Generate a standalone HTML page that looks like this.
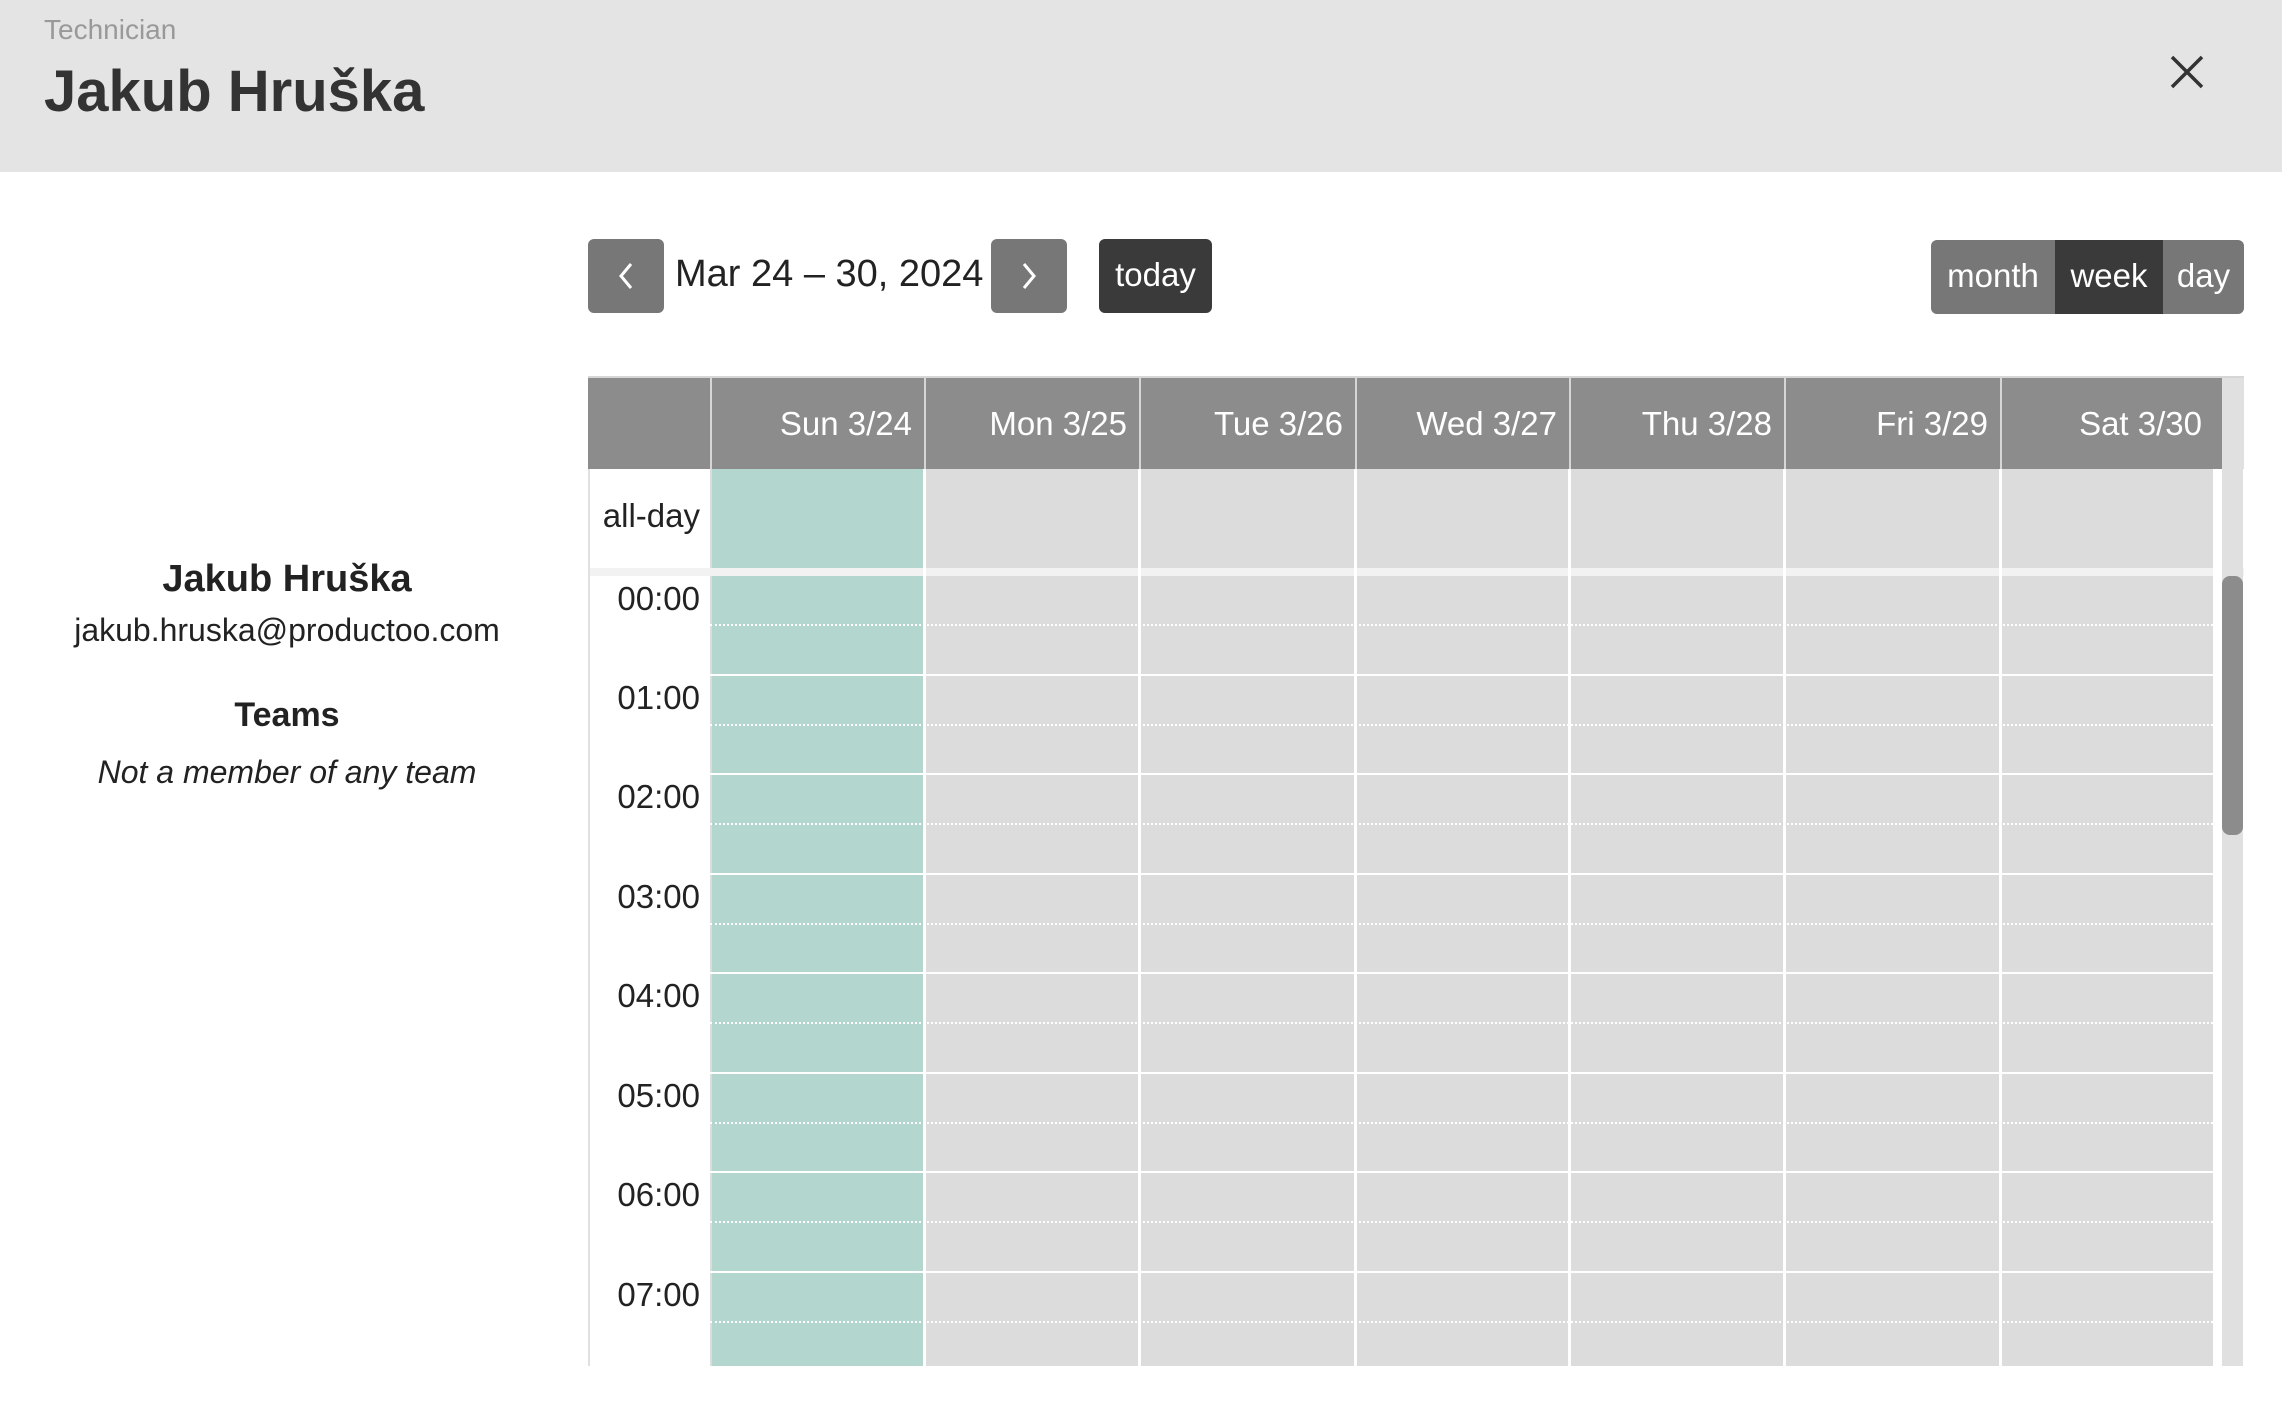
<!DOCTYPE html>
<html><head><meta charset="utf-8"><style>
*{margin:0;padding:0;box-sizing:border-box}
body{width:2282px;height:1416px;background:#fff;position:relative;overflow:hidden;font-family:"Liberation Sans Narrow","Liberation Sans",sans-serif;color:#222}
.a{position:absolute}
.btn{position:absolute;background:#777;border-radius:6px}
.hl{position:absolute;left:710px;width:1503px;height:0}
.tl{position:absolute;left:588px;width:112px;text-align:right;font-size:33px;color:#222}
.hd{position:absolute;top:378px;height:91px;background:#8c8c8c;color:#fff;font-size:33px;text-align:right;padding-right:12px;line-height:91px;border-left:2px solid #d6d6d6}
</style></head><body>
<div class="a" style="left:0;top:0;width:2282px;height:172px;background:#e4e4e4"></div>
<div class="a" style="left:44px;top:14px;font-size:28px;color:#999">Technician</div>
<div class="a" style="left:44px;top:58px;font-size:58px;font-weight:bold;color:#333">Jakub Hruška</div>
<svg class="a" style="left:2170px;top:55px" width="34" height="34"><path d="M2 2L32 32M32 2L2 32" stroke="#333" stroke-width="3.5"/></svg>

<div class="btn" style="left:588px;top:239px;width:76px;height:74px"></div>
<svg class="a" style="left:618px;top:262px" width="16" height="28"><path d="M13 2L3 14L13 26" stroke="#fff" stroke-width="3" fill="none"/></svg>
<div class="a" style="left:675px;top:253px;font-size:38px;color:#222">Mar 24 – 30, 2024</div>
<div class="btn" style="left:991px;top:239px;width:76px;height:74px"></div>
<svg class="a" style="left:1021px;top:262px" width="16" height="28"><path d="M3 2L13 14L3 26" stroke="#fff" stroke-width="3" fill="none"/></svg>
<div class="btn" style="left:1099px;top:239px;width:113px;height:74px;background:#3a3a3a"></div>
<div class="a" style="left:1099px;top:256px;width:113px;text-align:center;font-size:33px;color:#fff">today</div>

<div class="btn" style="left:1931px;top:240px;width:313px;height:74px"></div>
<div class="a" style="left:2055px;top:240px;width:108px;height:74px;background:#3a3a3a"></div>
<div class="a" style="left:1931px;top:257px;width:124px;text-align:center;font-size:33px;color:#fff">month</div>
<div class="a" style="left:2055px;top:257px;width:108px;text-align:center;font-size:33px;color:#fff">week</div>
<div class="a" style="left:2163px;top:257px;width:81px;text-align:center;font-size:33px;color:#fff">day</div>

<div class="a" style="left:0;top:558px;width:574px;text-align:center;font-size:38px;font-weight:bold">Jakub Hruška</div>
<div class="a" style="left:0;top:612px;width:574px;text-align:center;font-size:32px">jakub.hruska@productoo.com</div>
<div class="a" style="left:0;top:696px;width:574px;text-align:center;font-size:34px;font-weight:bold">Teams</div>
<div class="a" style="left:0;top:754px;width:574px;text-align:center;font-size:32px;font-style:italic">Not a member of any team</div>

<div class="a" style="left:588px;top:378px;width:2px;height:988px;background:#e0e0e0"></div>
<div class="a" style="left:588px;top:376px;width:1656px;height:2px;background:#d6d6d6"></div>
<div class="a" style="left:588px;top:378px;width:122px;height:91px;background:#8c8c8c"></div>
<div class="hd" style="left:710px;width:214px">Sun 3/24</div>
<div class="hd" style="left:924px;width:215px">Mon 3/25</div>
<div class="hd" style="left:1139px;width:216px">Tue 3/26</div>
<div class="hd" style="left:1355px;width:214px">Wed 3/27</div>
<div class="hd" style="left:1569px;width:215px">Thu 3/28</div>
<div class="hd" style="left:1784px;width:216px">Fri 3/29</div>
<div class="hd" style="left:2000px;width:222px;padding-right:20px">Sat 3/30</div>
<div class="a" style="left:2222px;top:378px;width:22px;height:91px;background:#e0e0e0"></div>

<div class="a" style="left:710px;top:469px;width:1503px;height:99px;background:#dcdcdc"></div>
<div class="a" style="left:712px;top:469px;width:212px;height:99px;background:#b3d6cf"></div>
<div class="tl" style="top:497px">all-day</div>
<div class="a" style="left:590px;top:568px;width:1654px;height:8px;background:#f2f2f2"></div>

<div class="a" style="left:710px;top:576px;width:1503px;height:790px;background:#dcdcdc"></div>
<div class="a" style="left:712px;top:576px;width:212px;height:790px;background:#b3d6cf"></div>

<div class="hl" style="top:624px;border-top:2px dotted #fff"></div>
<div class="hl" style="top:674px;border-top:2px solid #fff"></div>
<div class="hl" style="top:724px;border-top:2px dotted #fff"></div>
<div class="hl" style="top:773px;border-top:2px solid #fff"></div>
<div class="hl" style="top:823px;border-top:2px dotted #fff"></div>
<div class="hl" style="top:873px;border-top:2px solid #fff"></div>
<div class="hl" style="top:923px;border-top:2px dotted #fff"></div>
<div class="hl" style="top:972px;border-top:2px solid #fff"></div>
<div class="hl" style="top:1022px;border-top:2px dotted #fff"></div>
<div class="hl" style="top:1072px;border-top:2px solid #fff"></div>
<div class="hl" style="top:1122px;border-top:2px dotted #fff"></div>
<div class="hl" style="top:1171px;border-top:2px solid #fff"></div>
<div class="hl" style="top:1221px;border-top:2px dotted #fff"></div>
<div class="hl" style="top:1271px;border-top:2px solid #fff"></div>
<div class="hl" style="top:1321px;border-top:2px dotted #fff"></div>

<div class="a" style="left:923px;top:469px;width:3px;height:897px;background:#fff"></div>
<div class="a" style="left:1138px;top:469px;width:3px;height:897px;background:#fff"></div>
<div class="a" style="left:1354px;top:469px;width:3px;height:897px;background:#fff"></div>
<div class="a" style="left:1568px;top:469px;width:3px;height:897px;background:#fff"></div>
<div class="a" style="left:1783px;top:469px;width:3px;height:897px;background:#fff"></div>
<div class="a" style="left:1999px;top:469px;width:3px;height:897px;background:#fff"></div>
<div class="a" style="left:2213px;top:469px;width:9px;height:897px;background:#fff"></div>
<div class="a" style="left:2222px;top:469px;width:21px;height:897px;background:#e0e0e0"></div>
<div class="a" style="left:2222px;top:576px;width:21px;height:259px;background:#8c8c8c;border-radius:8px"></div>

<div class="tl" style="top:580px">00:00</div>
<div class="tl" style="top:679px">01:00</div>
<div class="tl" style="top:778px">02:00</div>
<div class="tl" style="top:878px">03:00</div>
<div class="tl" style="top:977px">04:00</div>
<div class="tl" style="top:1077px">05:00</div>
<div class="tl" style="top:1176px">06:00</div>
<div class="tl" style="top:1276px">07:00</div>
</body></html>
